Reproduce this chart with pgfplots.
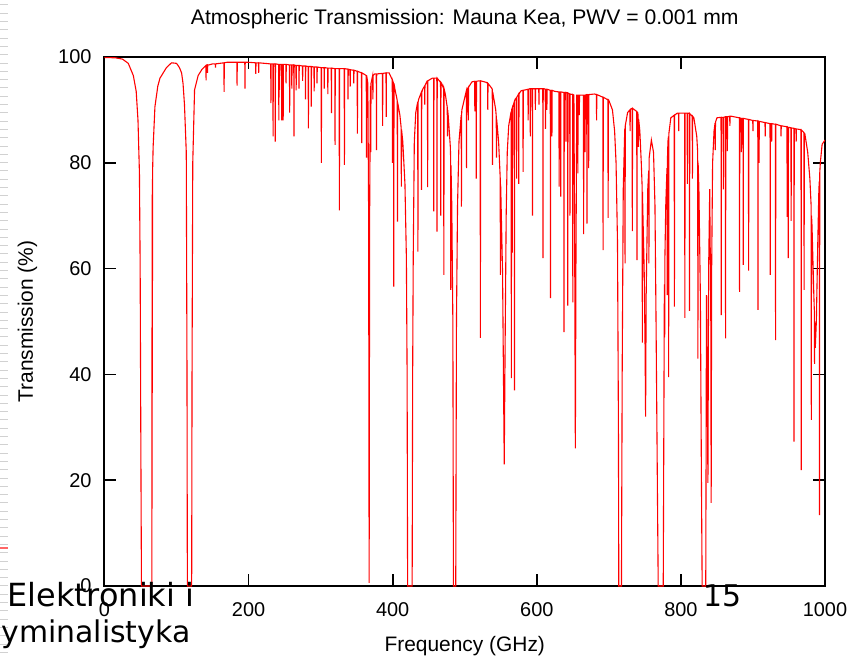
\documentclass[border=0pt]{standalone}
\usepackage{pgfplots}
\pgfplotsset{compat=1.18}
\usepackage{fontspec}
\setmainfont{Liberation Sans}
\newfontfamily\ovfont{DejaVu Sans}
\begin{document}
\begin{tikzpicture}
\begin{axis}[
  scale only axis, width=360.25bp, height=264.5bp,
  xmin=0, xmax=1000, ymin=0, ymax=100,
  xtick={0,200,...,1000}, ytick={0,20,...,100},
  minor tick num=0,
  tick align=inside, major tick length=6bp,
  tick style={black, line width=0.8bp},
  axis line style={black, line width=1bp},
  /pgf/number format/assume math mode=true,
  /pgf/number format/set thousands separator={},
  ticklabel style={font=\fontsize{10}{12}\selectfont},
  xticklabel style={anchor=base, yshift=-15bp},
  yticklabel style={xshift=-3bp},
  title={Atmospheric Transmission: Mauna Kea, PWV = 0.001 mm},
  every axis title/.style={at={(0.5,1)}, anchor=base, yshift=16bp, font=\fontsize{10.6}{12}\selectfont},
  xlabel={Frequency (GHz)},
  ylabel={Transmission (\%)},
  every axis y label/.style={at={(0,0.5)}, xshift=-35.75bp, rotate=90, anchor=base, font=\fontsize{10.5}{12}\selectfont},
  every axis x label/.style={at={(0.5,0)}, anchor=base, yshift=-32.5bp, font=\fontsize{10.5}{12}\selectfont},
  clip=true,
]
\addplot[red, line width=0.55bp, mark=none] coordinates {
(0,99.9) (15,99.85) (25,99.6) (33,98.8) (40,96.5) (44,93.5) (46.5,88) (48.5,78) (49.5,60) (50.5,25) (51.3,0) (65.8,0) (66.1,74) (66.4,36.5) (66.7,78) (67.5,83) (70,90.6) (74,94.5) (77,96) (86,98) (93,98.9) (100,98.8) (104,98) (107,97) (109,95) (111,91) (113.5,82) (114.5,40) (115,0) (121,0) (121.5,40) (122.5,80) (125,93.8) (130,96.5) (135,97.6)
(140.7,98.4) (141,95.6) (141.3,98.4)
(142.7,98.5) (143,97) (143.3,98.5)
(145,98.5) (150,98.7)
(153.7,98.7) (154,98) (154.3,98.7)
(165.7,98.9) (166,93.4) (166.3,98.9)
(170,99)
(183.7,99) (184,94.6) (184.3,99)
(194.7,99) (195,94) (195.3,99)
(200,99)
(209.7,98.9) (210,96.8) (210.3,98.9)
(213.7,98.9) (214,97) (214.3,98.9)
(230,98.7)
(230.7,98.7) (231,91.3) (231.3,98.7)
(233.7,98.7) (234,85) (234.3,98.7)
(236.7,98.7) (237,84) (237.3,98.7)
(241.7,98.6) (242,88) (242.3,98.6)
(242.7,98.6) (243,93.8) (243.3,98.6)
(245.7,98.6) (246,88) (246.3,98.6)
(247.7,98.6) (248,88) (248.3,98.6)
(251.7,98.6) (252,95) (252.3,98.6)
(256.7,98.5) (257,89.5) (257.3,98.5)
(259.7,98.5) (260,94) (260.3,98.5)
(262.7,98.5) (263,85) (263.3,98.5)
(265.7,98.4) (266,93.7) (266.3,98.4)
(269.7,98.4) (270,94) (270.3,98.4)
(274.7,98.3) (275,95.5) (275.3,98.3)
(278.7,98.3) (279,92) (279.3,98.3)
(282.7,98.2) (283,86.5) (283.3,98.2)
(286.7,98.2) (287,90.6) (287.3,98.2)
(290.7,98.1) (291,93.5) (291.3,98.1)
(294.7,98.1) (295,95) (295.3,98.1)
(300,98)
(300.7,98) (301,80) (301.3,98)
(304.7,98) (305,94) (305.3,98)
(309.7,97.9) (310,93) (310.3,97.9)
(314.7,97.9) (315,89.4) (315.3,97.9)
(319.7,97.8) (320,83.4) (320.3,97.8)
(325.7,97.8) (326,71) (326.3,97.8)
(330,97.8)
(332.7,97.8) (333,79.6) (333.3,97.8)
(337.7,97.7) (338,92) (338.3,97.7)
(340.7,97.6) (341,94.4) (341.3,97.6)
(345,97.5)
(345.7,97.5) (346,95) (346.3,97.5)
(350.7,97.3) (351,85.5) (351.3,97.3)
(356.7,97) (357,83.7) (357.3,97)
(363.3,96.5) (363.6,81) (363.9,96.5)
(365.5,95) (366.6,70) (367.3,0.6) (368,70) (369,94)
(369.3,94.5) (369.6,82) (369.9,95)
(372.2,96.5) (372.5,92) (372.8,96.5)
(375,96.8)
(377.2,96.8) (377.5,82.4) (377.8,96.8)
(385.7,96.9) (386,87) (386.3,96.9)
(390.7,97) (391,88.7) (391.3,97)
(395,97)
(399.4,95.7) (399.7,80) (400,95.5)
(401.2,95) (401.5,56.6) (401.8,95)
(403,94)
(406,92)
(406.3,91.7) (406.6,68.9) (406.9,91.4)
(410,89)
(411.7,86.7) (412,75.5) (412.3,86.3)
(414,84) (417,76) (419,62) (420,40) (420.7,0) (427,0) (427.7,40) (428.5,62) (430,84) (432,89.5)
(434.7,91.5) (435,63.2) (435.3,91.5)
(436,92)
(439.7,93.3) (440,74.9) (440.3,93.3)
(442,94)
(444.2,94.5) (444.5,91) (444.8,94.6)
(448,95.5)
(448.2,95.5) (448.5,75.4) (448.8,95.5)
(455,96)
(456.7,96) (457,70.8) (457.3,96)
(461.2,96) (461.5,67) (461.8,96)
(466.4,95.2) (466.7,70) (467,95.2)
(468,95)
(470.7,94) (471,58.8) (471.3,94)
(473,93)
(475.7,90.5) (476,85) (476.3,90)
(477,89)
(480,83)
(480.3,81.4) (480.6,56) (480.9,79.5)
(482,72) (483.5,50) (484.3,0) (487.5,0) (488.5,50) (490,72) (492,84)
(495.1,89) (495.4,71.7) (495.7,89.2)
(496,90)
(502,93.5)
(502.2,93.6) (502.5,79) (502.8,93.7)
(504.7,94.2) (505,88) (505.3,94.3)
(510,95.3)
(513.7,95.4) (514,89.7) (514.3,95.4)
(515.7,95.4) (516,77) (516.3,95.4)
(520,95.5)
(521.4,95.5) (521.7,46.9) (522,95.5)
(530,95.2)
(531.7,95) (532,90) (532.3,95)
(538,94)
(538.2,93.8) (538.5,79.6) (538.8,93.4)
(543,90)
(543.7,88.8) (544,81) (544.3,88.2)
(547,84)
(549.2,77.2) (549.5,58.8) (549.8,75.9)
(550,75) (552.5,59) (554.8,23) (556,45) (557.5,70) (559,82) (561,87)
(564.4,89.7) (564.7,39.3) (565,90)
(565.7,90.3) (566,63) (566.3,90.5)
(568.7,91.5) (569,37) (569.3,91.7)
(570,92)
(571.7,92.3) (572,77) (572.3,92.4)
(574.7,93) (575,76) (575.3,93)
(578,93.6)
(580.7,93.7) (581,78.3) (581.3,93.7)
(587.7,93.9) (588,88) (588.3,93.9)
(590,94)
(590.7,94) (591,85) (591.3,94)
(593.7,94) (594,70) (594.3,94)
(597.7,94) (598,90) (598.3,94)
(602.7,94) (603,91) (603.3,94)
(608.3,94) (608.6,62) (608.9,94)
(610,94)
(611.7,93.9) (612,86.4) (612.3,93.9)
(613.7,93.9) (614,90) (614.3,93.9)
(618.7,93.7) (619,54.4) (619.3,93.7)
(620.7,93.7) (621,85) (621.3,93.7)
(625,93.5)
(630.7,93.4) (631,75.5) (631.3,93.4)
(632.9,93.4) (633.2,73.6) (633.5,93.4)
(637.5,93.3) (637.8,48) (638.1,93.3)
(640,93.3)
(640.2,93.3) (640.5,84) (640.8,93.3)
(642.7,93.2) (643,53) (643.3,93.2)
(645.7,93) (646,70) (646.3,93)
(649.7,92.9) (650,53.6) (650.3,92.9)
(651.5,92.8) (652.7,60) (653.5,26) (654.3,60) (655.5,92.8)
(656.7,92.8) (657,78) (657.3,92.8)
(658.7,92.8) (659,89) (659.3,92.8)
(664.7,92.8) (665,66.5) (665.3,92.8)
(666.7,92.8) (667,82) (667.3,92.8)
(669.3,92.9) (669.6,68.5) (669.9,92.9)
(671.7,92.9) (672,79) (672.3,92.9)
(680,93)
(682.7,92.9) (683,88) (683.3,92.9)
(690,92.5)
(691.7,92.4) (692,63.5) (692.3,92.4)
(698.7,91.9) (699,69.6) (699.3,91.9)
(700,91.8) (705,90) (708,86) (710,80) (712,65) (713.3,30) (713.8,0) (717.5,0) (718.5,40) (720,75) (722,86)
(722.2,86.5) (722.5,61) (722.8,87)
(726,89.5)
(729.2,90) (729.5,86) (729.8,90.1)
(732.3,90.3) (732.6,67.1) (732.9,90.3)
(738.7,89.7) (739,61.6) (739.3,89.6)
(740,89.5)
(740.7,88.9) (741,83) (741.3,88.3)
(743,86) (745,80)
(746.2,75.5) (746.5,46) (746.8,74.5)
(747,72) (749,60) (750.3,45) (751,32) (751.8,55) (754,75)
(755.3,78.5) (755.6,61) (755.9,79)
(756,81) (759,84.3) (762,82) (764,72) (765.5,50) (767,25) (768.5,0) (775.5,0) (777,55)
(777.2,57) (777.5,47) (777.8,62)
(779,72)
(780.7,79) (781,55) (781.3,80.5)
(782,84)
(782.7,85) (783,39.5) (783.3,85.5)
(786,88.5)
(790.7,89) (791,52.8) (791.3,89)
(795,89.4)
(796.7,89.4) (797,86) (797.3,89.4)
(805.2,89.4) (805.5,50.7) (805.8,89.4)
(808.7,89.4) (809,76) (809.3,89.4)
(810,89.4)
(811.7,89.3) (812,52) (812.3,89.3)
(815.7,88.8) (816,77) (816.3,88.8)
(818,88.5) (822,85)
(823.3,82) (823.6,43) (823.9,80)
(825,75) (827,55) (828.5,20) (829.5,0) (834.5,0) (835.5,55) (836.5,40) (837.5,19.5) (838.5,60) (840,75) (841.5,50) (842,15.7) (842.7,60) (844,80) (846,86)
(847.4,87.5) (847.7,82.4) (848,87.7)
(850,88.5)
(855.7,88.6) (856,51.2) (856.3,88.6)
(858.7,88.6) (859,75) (859.3,88.6)
(861.7,88.7) (862,46.8) (862.3,88.7)
(864.2,88.7) (864.5,82.2) (864.8,88.7)
(867.7,88.8) (868,87) (868.3,88.8)
(870,88.8)
(881.1,88.5) (881.4,55.6) (881.7,88.5)
(883.7,88.4) (884,82) (884.3,88.4)
(886.2,88.4) (886.5,60.7) (886.8,88.4)
(890,88.3)
(893.7,88.2) (894,59.6) (894.3,88.2)
(899.7,88) (900,86) (900.3,88)
(906.7,87.9) (907,52.2) (907.3,87.9)
(908.2,87.8) (908.5,80) (908.8,87.8)
(910,87.8)
(916.7,87.6) (917,85) (917.3,87.6)
(923.7,87.4) (924,58.8) (924.3,87.4)
(925.7,87.4) (926,84) (926.3,87.4)
(930,87.3)
(931.1,87.3) (931.4,46.5) (931.7,87.3)
(938.7,87) (939,85) (939.3,87)
(947.2,86.8) (947.5,69.8) (947.8,86.8)
(948.7,86.7) (949,62) (949.3,86.7)
(950,86.7)
(952.7,86.6) (953,69) (953.3,86.6)
(956.7,86.5) (957,27.3) (957.3,86.5)
(959.7,86.4) (960,84) (960.3,86.4)
(965,86.3)
(966.7,86.2) (967,21.9) (967.3,86.2)
(970.7,85.7) (971,56) (971.3,85.6)
(972,85.5) (976,82) (979,77)
(980.7,72) (981,31.4) (981.3,70)
(982,68) (984.5,55)
(985.2,52) (985.5,42) (985.8,50)
(986.5,45) (988,50) (990,65) (991.5,75)
(992.1,76.5) (992.4,13.4) (992.7,78)
(993.5,80) (996,83.5) (1000,84.3)
};
\coordinate (SW) at (rel axis cs:0,0);
\coordinate (NE) at (rel axis cs:1,1);
\end{axis}
\foreach \k in {0,...,78}{
  \draw[black!18, line width=0.5bp] ([xshift=-52.25bp, yshift={290.5bp-4.15bp*\k}]SW) -- ++(4bp,0);
}
\draw[red!60, line width=0.6bp] ([xshift=-52.25bp, yshift=19bp]SW) -- ++(4bp,0);
\node[anchor=base west, inner sep=0pt, font=\ovfont\fontsize{16}{19}\selectfont] at ([xshift=-48.75bp, yshift=-10.35bp]SW) {Elektroniki i};
\node[anchor=base west, inner sep=0pt, font=\ovfont\fontsize{15}{18}\selectfont] at ([xshift=-51.75bp, yshift=-28.35bp]SW) {yminalistyka};
\node[anchor=base west, inner sep=0pt, font=\ovfont\fontsize{15}{18}\selectfont] at ([xshift=299.25bp, yshift=-10.35bp]SW) {15};
\pgfresetboundingbox
\path[use as bounding box] ([xshift=-52.25bp, yshift=-35.5bp]SW) rectangle ([xshift=11.5bp, yshift=28.5bp]NE);
\end{tikzpicture}
\end{document}
